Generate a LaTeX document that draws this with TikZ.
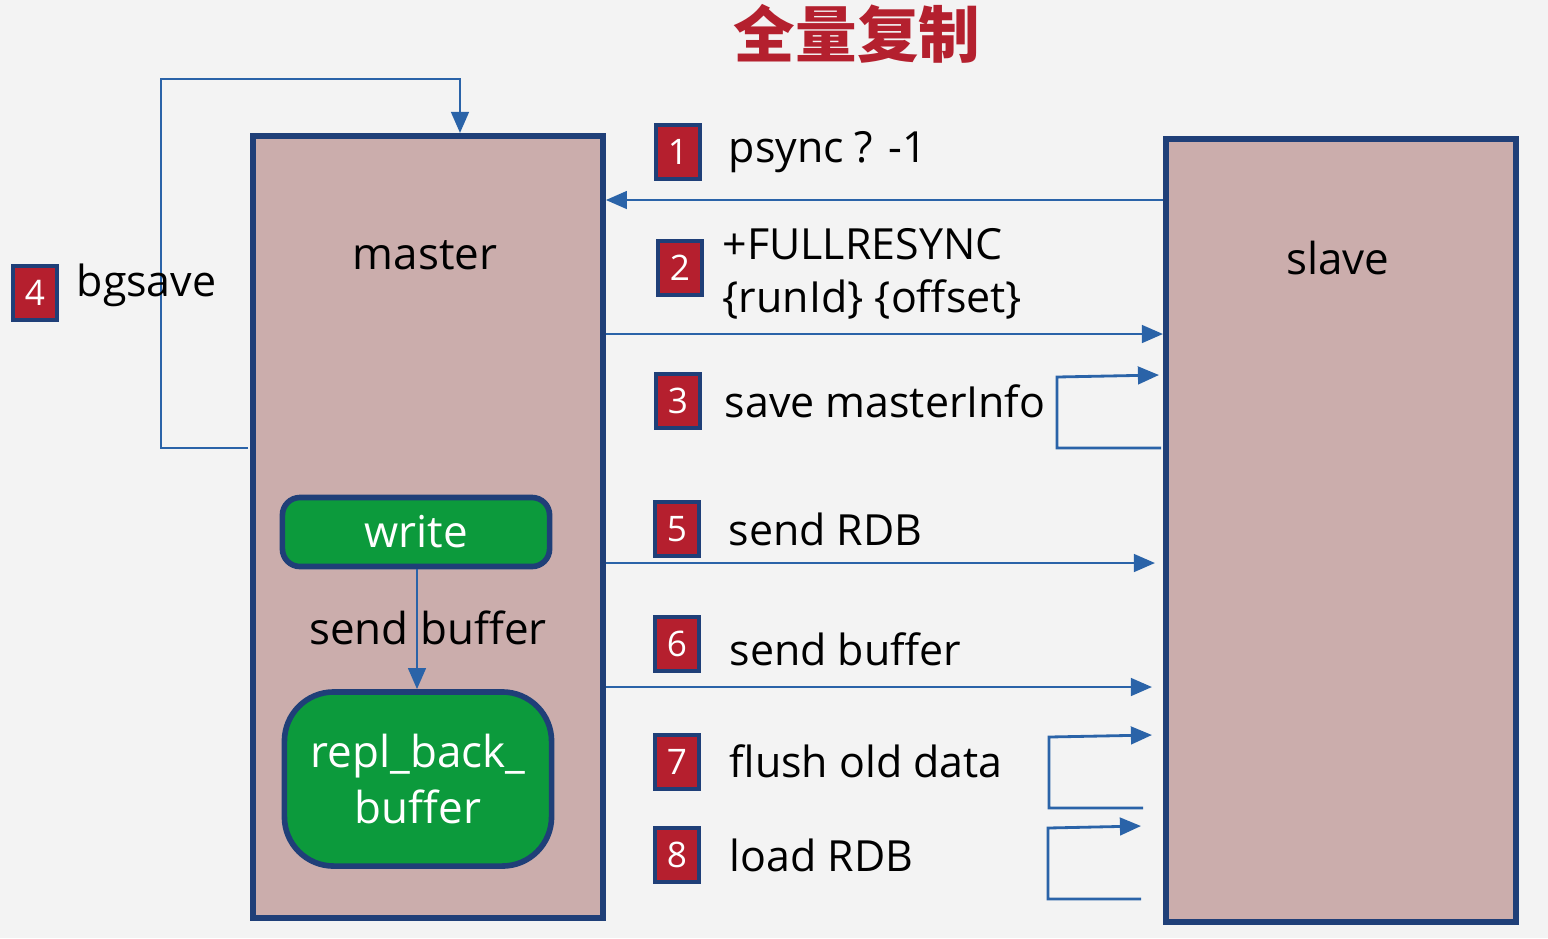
\documentclass[tikz,border=0pt]{standalone}
\usepackage{fontspec}
\setmainfont{Open Sans}
\newfontfamily\cjk{Noto Sans CJK SC}
\usetikzlibrary{arrows.meta, positioning}
\definecolor{bgc}{HTML}{F3F3F3}
\definecolor{boxc}{HTML}{CBADAC}
\definecolor{navy}{HTML}{1F3F78}
\definecolor{linec}{HTML}{2A63A8}
\definecolor{badgec}{HTML}{B51F2E}
\definecolor{greenc}{HTML}{0C9A3C}
\definecolor{titlec}{HTML}{B4202E}
\begin{document}
\begin{tikzpicture}[x=0.01cm, y=-0.01cm,
    host/.style={rectangle, draw=navy, fill=boxc, line width=1.6pt, anchor=north west},
    buf/.style={rectangle, draw=navy, fill=greenc, line width=1.6pt, text=white, align=center, font=\fontsize{12.5}{14}\selectfont},
    badge/.style={rectangle, draw=navy, fill=badgec, line width=1pt, text=white, minimum width=0.44cm, minimum height=0.54cm, inner sep=0pt, font=\fontsize{10}{12}\selectfont},
    label/.style={anchor=west, align=left, font=\fontsize{12.2}{13}\selectfont, inner sep=0pt},
    arrow/.style={-{Triangle[length=6pt,width=5pt]}, draw=linec, line width=0.8pt}
]
\fill[bgc] (0,0) rectangle (1548,938);
\useasboundingbox (0,0) rectangle (1548,938);

% Title
\node[font=\cjk\bfseries\fontsize{17.5}{19}\selectfont, text=titlec] (title) at (857,34) {全量复制};

% Hosts
\node[host, minimum width=3.50cm, minimum height=7.82cm] (master) at (250,133) {};
\node[host, minimum width=3.50cm, minimum height=7.83cm] (slave) at (1163,136) {};
\node[font=\fontsize{12.5}{14}\selectfont] (mlabel) at (425,255) {master};
\node[font=\fontsize{12.5}{14}\selectfont] (slabel) at (1338,258) {slave};

% Buffers
\node[buf, rounded corners=5pt, minimum width=2.67cm, minimum height=0.69cm] (write) at (416,532) {write};
\node[buf, rounded corners=14pt, minimum width=2.67cm, minimum height=1.74cm] (repl) at (418,779) {repl\_back\_\\[2pt]buffer};
\draw[arrow] (write.south -| 417,0) -- (repl.north -| 417,0);
\node[font=\fontsize{12.5}{14}\selectfont] (sbuf) at (428,628) {send buffer};

% bgsave loop
\coordinate (bgs) at (248,448);
\draw[arrow] (bgs) -- (161,448) -- (161,79) -- (460,79) -- (master.north -| 460,0);
\node[badge] (b4) at (35,293) {4};
\node[label] (t4) at (76,285) {bgsave};

% Messages
\node[badge] (b1) at (678,152) {1};
\node[label] (t1) at (728,152) {psync ? -1};
\draw[arrow] (slave.west |- 0,200) -- (master.east |- 0,200);

\node[badge] (b2) at (680,268) {2};
\node[label] (t2) at (722,274) {+FULLRESYNC\\[2pt]\{runId\} \{offset\}};
\draw[arrow] (master.east |- 0,334) -- (slave.west |- 0,334);

\node[badge] (b3) at (678,401) {3};
\node[label] (t3) at (724,401) {save masterInfo};
\coordinate (l3) at (1161,448);
\coordinate (e3) at (1159,375);
\draw[arrow] (l3) -- (1057,448) -- (1057,377) -- (e3);

\node[badge] (b5) at (677,529) {5};
\node[label] (t5) at (728,529) {send RDB};
\draw[arrow] (master.east |- 0,563) -- (1155,563);

\node[badge] (b6) at (677,644) {6};
\node[label] (t6) at (729,649) {send buffer};
\draw[arrow] (master.east |- 0,687) -- (1152,687);

\node[badge] (b7) at (677,762) {7};
\node[label] (t7) at (729,761) {flush old data};
\coordinate (l7) at (1143,808);
\coordinate (e7) at (1152,735);
\draw[arrow] (l7) -- (1049,808) -- (1049,737) -- (e7);

\node[badge] (b8) at (677,855) {8};
\node[label] (t8) at (729,855) {load RDB};
\coordinate (l8) at (1141,899);
\coordinate (e8) at (1141,826);
\draw[arrow] (l8) -- (1048,899) -- (1048,828) -- (e8);
\end{tikzpicture}
\end{document}
